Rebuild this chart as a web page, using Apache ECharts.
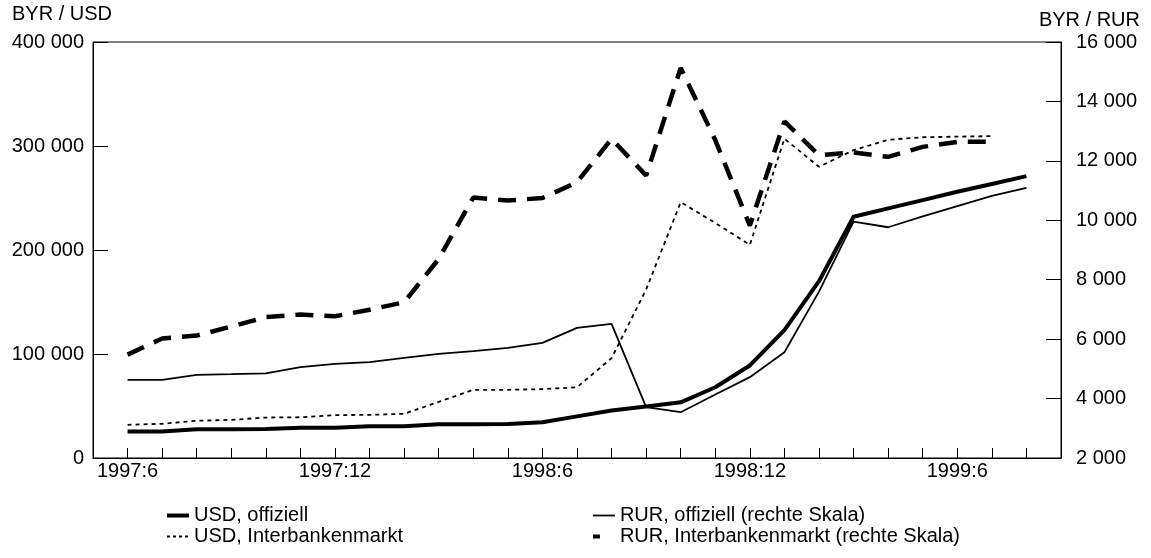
<!DOCTYPE html>
<html>
<head>
<meta charset="utf-8">
<script src="https://cdn.jsdelivr.net/npm/echarts@6/dist/echarts.min.js"></script>
<style>
html,body{margin:0;padding:0;background:#fff;}
#chart{width:1151px;height:558px;}
</style>
</head>
<body>
<div id="chart"></div>
<script>
// Months (x categories)
const months = ['1997:6','1997:7','1997:8','1997:9','1997:10','1997:11','1997:12',
  '1998:1','1998:2','1998:3','1998:4','1998:5','1998:6','1998:7','1998:8','1998:9','1998:10','1998:11','1998:12',
  '1999:1','1999:2','1999:3','1999:4','1999:5','1999:6','1999:7','1999:8'];
const xTickLabels = ['1997:6','1997:12','1998:6','1998:12','1999:6'];

// BYR per USD (left axis)
const usdOfficial = [25500,25500,27700,27700,27800,29000,29000,30600,30600,32500,32500,32800,34400,40000,45700,49600,53500,68000,89000,123000,170000,232000,240000,248000,256000,263500,271000];
const usdInterbank = [31900,32900,35800,36700,38900,39200,41200,41500,42500,54000,65600,65600,66200,68000,96000,162000,246000,226000,205000,307000,280000,296000,306000,308400,309000,309500];
// BYR per RUR (right axis)
const rurOfficial = [4630,4630,4800,4820,4845,5055,5170,5225,5370,5505,5594,5708,5876,6381,6516,3709,3541,4137,4720,5560,7600,9958,9766,10130,10476,10820,11092];
const rurInterbank = [5480,6020,6120,6425,6740,6830,6770,6990,7240,8700,10766,10665,10750,11280,12740,11506,15130,12700,9820,13330,12190,12280,12135,12470,12640,12640];

const leftTicks = [0,100000,200000,300000,400000];
const rightTicks = [2000,4000,6000,8000,10000,12000,14000,16000];

const FONT = '"Liberation Sans", Arial, Helvetica, sans-serif';
const FS = 20;
const LFS = 20;
const pairs = arr => arr.map((v, i) => [i, v]);
const fmt = v => String(v).replace(/\B(?=(\d{3})+(?!\d))/g, ' ');

const chart = echarts.init(document.getElementById('chart'), null, {renderer: 'canvas'});
chart.setOption({
  animation: false,
  backgroundColor: '#fff',
  textStyle: {fontFamily: FONT, color: '#000'},
  grid: {left: 93, right: 90, top: 42, bottom: 100, show: true, borderColor: '#000', borderWidth: 1, backgroundColor: 'transparent'},
  graphic: [
    {type: 'text', left: 12, top: 4, style: {text: 'BYR / USD', font: FS + 'px ' + FONT, fill: '#000'}},
    {type: 'text', right: 11, top: 10, style: {text: 'BYR / RUR', font: FS + 'px ' + FONT, fill: '#000'}}
  ],
  xAxis: {
    type: 'value', min: -1, max: months.length, interval: 1,
    axisLine: {show: true, onZero: false, lineStyle: {color: '#000', width: 1}},
    axisTick: {show: true, inside: true, length: 10, lineStyle: {color: '#000', width: 1}},
    splitLine: {show: false},
    axisLabel: {
      show: true, margin: 3, color: '#000', fontSize: FS, fontFamily: FONT,
      showMinLabel: true, showMaxLabel: true,
      formatter: v => (v >= 0 && v < months.length && xTickLabels.includes(months[v])) ? months[v] : ''
    }
  },
  yAxis: [
    {
      type: 'value', position: 'left', min: leftTicks[0], max: leftTicks[leftTicks.length - 1], interval: 100000,
      axisLine: {show: true, onZero: false, lineStyle: {color: '#000', width: 1}},
      axisTick: {show: true, inside: true, length: 15, lineStyle: {color: '#000', width: 1}},
      splitLine: {show: false},
      axisLabel: {margin: 9, color: '#000', fontSize: FS, fontFamily: FONT, formatter: v => fmt(v)}
    },
    {
      type: 'value', position: 'right', min: rightTicks[0], max: rightTicks[rightTicks.length - 1], interval: 2000,
      axisLine: {show: true, onZero: false, lineStyle: {color: '#000', width: 1}},
      axisTick: {show: true, inside: true, length: 15, lineStyle: {color: '#000', width: 1}},
      splitLine: {show: false},
      axisLabel: {margin: 15, color: '#000', fontSize: FS, fontFamily: FONT, formatter: v => fmt(v)}
    }
  ],
  legend: [
    {
      orient: 'vertical', left: 165, top: 505, padding: 0, itemWidth: 22, itemHeight: 4, itemGap: 0,
      itemStyle: {opacity: 0},
      textStyle: {fontSize: LFS, fontFamily: FONT, color: '#000', lineHeight: 21},
      data: [
        {name: 'USD, offiziell', lineStyle: {width: 4, color: '#000'}},
        {name: 'USD, Interbankenmarkt', lineStyle: {width: 1.8, color: '#000', type: [3, 3]}}
      ]
    },
    {
      orient: 'vertical', left: 592, top: 505, padding: 0, itemWidth: 22, itemHeight: 4, itemGap: 0,
      itemStyle: {opacity: 0},
      textStyle: {fontSize: LFS, fontFamily: FONT, color: '#000', lineHeight: 21},
      data: [
        {name: 'RUR, offiziell (rechte Skala)', lineStyle: {width: 1.8, color: '#000'}},
        {name: 'RUR, Interbankenmarkt (rechte Skala)', icon: 'path://M0,0L7,0L7,4L0,4Z M22,4L22,4.01L21.99,4.01Z',
         itemStyle: {opacity: 1, color: '#000'}}
      ]
    }
  ],
  series: [
    {name: 'USD, offiziell', type: 'line', yAxisIndex: 0, data: pairs(usdOfficial), symbol: 'none',
     color: '#000', lineStyle: {color: '#000', width: 4, cap: 'butt', join: 'round'}},
    {name: 'USD, Interbankenmarkt', type: 'line', yAxisIndex: 0, data: pairs(usdInterbank), symbol: 'none',
     color: '#000', lineStyle: {color: '#000', width: 1.8, type: [4, 4]}},
    {name: 'RUR, offiziell (rechte Skala)', type: 'line', yAxisIndex: 1, data: pairs(rurOfficial), symbol: 'none',
     color: '#000', lineStyle: {color: '#000', width: 1.8}},
    {name: 'RUR, Interbankenmarkt (rechte Skala)', type: 'line', yAxisIndex: 1, data: pairs(rurInterbank), symbol: 'none',
     color: '#000', lineStyle: {color: '#000', width: 4.5, type: [18, 11]}}
  ]
});
</script>
</body>
</html>
